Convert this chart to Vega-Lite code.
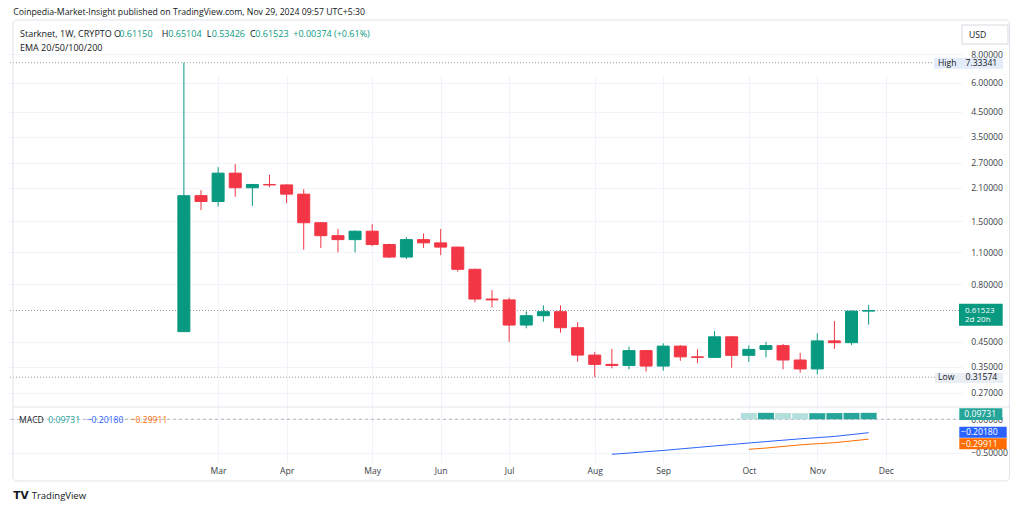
{
  "$schema": "https://vega.github.io/schema/vega-lite/v6.json",
  "width": 954,
  "height": 442,
  "autosize": {"type": "none"},
  "padding": {"left": 8, "top": 20, "right": 62, "bottom": 47},
  "background": "#ffffff",
  "config": {
    "view": {"stroke": null},
    "font": "Open Sans",
    "text": {"font": "Open Sans"},
    "axis": {"labelFont": "Open Sans", "labelFontSize": 8.6, "labelColor": "#3a3d45", "ticks": false, "domain": false, "gridColor": "#F0F3FA", "title": null}
  },
  "datasets": {
    "candles": [
      {"date": "2024-02-19", "open": 0.498, "high": 7.33341, "low": 0.497, "close": 1.94},
      {"date": "2024-02-26", "open": 1.94, "high": 2.05, "low": 1.68, "close": 1.83},
      {"date": "2024-03-04", "open": 1.83, "high": 2.58, "low": 1.74, "close": 2.43},
      {"date": "2024-03-11", "open": 2.43, "high": 2.66, "low": 1.92, "close": 2.10},
      {"date": "2024-03-18", "open": 2.10, "high": 2.18, "low": 1.75, "close": 2.17},
      {"date": "2024-03-25", "open": 2.17, "high": 2.39, "low": 2.11, "close": 2.16},
      {"date": "2024-04-01", "open": 2.16, "high": 2.17, "low": 1.80, "close": 1.97},
      {"date": "2024-04-08", "open": 1.97, "high": 2.07, "low": 1.13, "close": 1.48},
      {"date": "2024-04-15", "open": 1.48, "high": 1.49, "low": 1.15, "close": 1.30},
      {"date": "2024-04-22", "open": 1.30, "high": 1.39, "low": 1.10, "close": 1.25},
      {"date": "2024-04-29", "open": 1.25, "high": 1.37, "low": 1.10, "close": 1.36},
      {"date": "2024-05-06", "open": 1.36, "high": 1.46, "low": 1.17, "close": 1.19},
      {"date": "2024-05-13", "open": 1.19, "high": 1.20, "low": 1.04, "close": 1.05},
      {"date": "2024-05-20", "open": 1.05, "high": 1.28, "low": 1.03, "close": 1.25},
      {"date": "2024-05-27", "open": 1.25, "high": 1.33, "low": 1.15, "close": 1.21},
      {"date": "2024-06-03", "open": 1.21, "high": 1.39, "low": 1.07, "close": 1.16},
      {"date": "2024-06-10", "open": 1.16, "high": 1.165, "low": 0.907, "close": 0.929},
      {"date": "2024-06-17", "open": 0.929, "high": 0.935, "low": 0.668, "close": 0.690},
      {"date": "2024-06-24", "open": 0.690, "high": 0.755, "low": 0.635, "close": 0.684},
      {"date": "2024-07-01", "open": 0.684, "high": 0.699, "low": 0.450, "close": 0.532},
      {"date": "2024-07-08", "open": 0.532, "high": 0.610, "low": 0.515, "close": 0.584},
      {"date": "2024-07-15", "open": 0.584, "high": 0.648, "low": 0.550, "close": 0.608},
      {"date": "2024-07-22", "open": 0.608, "high": 0.648, "low": 0.493, "close": 0.518},
      {"date": "2024-07-29", "open": 0.518, "high": 0.547, "low": 0.369, "close": 0.394},
      {"date": "2024-08-05", "open": 0.394, "high": 0.407, "low": 0.31574, "close": 0.359},
      {"date": "2024-08-12", "open": 0.359, "high": 0.419, "low": 0.345, "close": 0.355},
      {"date": "2024-08-19", "open": 0.355, "high": 0.428, "low": 0.342, "close": 0.412},
      {"date": "2024-08-26", "open": 0.412, "high": 0.415, "low": 0.334, "close": 0.353},
      {"date": "2024-09-02", "open": 0.353, "high": 0.443, "low": 0.337, "close": 0.431},
      {"date": "2024-09-09", "open": 0.431, "high": 0.435, "low": 0.372, "close": 0.387},
      {"date": "2024-09-16", "open": 0.387, "high": 0.418, "low": 0.363, "close": 0.385},
      {"date": "2024-09-23", "open": 0.385, "high": 0.501, "low": 0.383, "close": 0.473},
      {"date": "2024-09-30", "open": 0.473, "high": 0.475, "low": 0.347, "close": 0.393},
      {"date": "2024-10-07", "open": 0.393, "high": 0.434, "low": 0.368, "close": 0.417},
      {"date": "2024-10-14", "open": 0.417, "high": 0.450, "low": 0.385, "close": 0.433},
      {"date": "2024-10-21", "open": 0.433, "high": 0.440, "low": 0.342, "close": 0.375},
      {"date": "2024-10-28", "open": 0.375, "high": 0.403, "low": 0.330, "close": 0.343},
      {"date": "2024-11-04", "open": 0.343, "high": 0.490, "low": 0.325, "close": 0.454},
      {"date": "2024-11-11", "open": 0.454, "high": 0.554, "low": 0.419, "close": 0.446},
      {"date": "2024-11-18", "open": 0.446, "high": 0.615, "low": 0.436, "close": 0.6115},
      {"date": "2024-11-25", "open": 0.6115, "high": 0.65104, "low": 0.53426, "close": 0.61523}
    ],
    "macd": [
      {"date": "2024-08-12", "macd": -0.527, "signal": null, "hist": null, "dir": null},
      {"date": "2024-08-19", "macd": -0.508, "signal": null, "hist": null, "dir": null},
      {"date": "2024-08-26", "macd": -0.488, "signal": null, "hist": null, "dir": null},
      {"date": "2024-09-02", "macd": -0.469, "signal": null, "hist": null, "dir": null},
      {"date": "2024-09-09", "macd": -0.446, "signal": null, "hist": null, "dir": null},
      {"date": "2024-09-16", "macd": -0.424, "signal": null, "hist": null, "dir": null},
      {"date": "2024-09-23", "macd": -0.401, "signal": null, "hist": null, "dir": null},
      {"date": "2024-09-30", "macd": -0.379, "signal": null, "hist": null, "dir": null},
      {"date": "2024-10-07", "macd": -0.357, "signal": -0.452, "hist": 0.095, "dir": "falling"},
      {"date": "2024-10-14", "macd": -0.336, "signal": -0.433, "hist": 0.097, "dir": "rising"},
      {"date": "2024-10-21", "macd": -0.315, "signal": -0.409, "hist": 0.094, "dir": "falling"},
      {"date": "2024-10-28", "macd": -0.294, "signal": -0.385, "hist": 0.091, "dir": "falling"},
      {"date": "2024-11-04", "macd": -0.276, "signal": -0.368, "hist": 0.092, "dir": "rising"},
      {"date": "2024-11-11", "macd": -0.258, "signal": -0.352, "hist": 0.094, "dir": "rising"},
      {"date": "2024-11-18", "macd": -0.230, "signal": -0.326, "hist": 0.096, "dir": "rising"},
      {"date": "2024-11-25", "macd": -0.2018, "signal": -0.29911, "hist": 0.09731, "dir": "rising"}
    ]
  },
  "layer": [
    {
      "layer": [
        {
          "data": {"values": [{"level": 7.33341}, {"level": 0.61523}, {"level": 0.31574}]},
          "mark": {"type": "rule", "color": "#9598A1", "strokeDash": [1, 2], "strokeWidth": 1},
          "encoding": {
            "y": {"field": "level", "type": "quantitative", "title": null,
              "scale": {"type": "log", "domain": [0.2344, 11.24], "range": [387, 0], "nice": false, "zero": false},
              "axis": {"orient": "right", "values": [0.27, 0.35, 0.45, 0.8, 1.1, 1.5, 2.1, 2.7, 3.5, 4.5, 6, 8], "format": ".5f", "grid": true, "labelPadding": 8.7, "labelFlush": false, "labelOverlap": false}}
          }
        },
        {
          "data": {"name": "candles"},
          "mark": {"type": "rule", "strokeWidth": 1},
          "encoding": {
            "x": {"field": "date", "type": "temporal", "title": null,
              "scale": {"type": "utc", "domain": [{"year": 2023, "month": 12, "date": 11, "hours": 3, "utc": true}, {"year": 2024, "month": 12, "date": 31, "hours": 3, "utc": true}]},
              "axis": {"orient": "bottom", "format": "%b", "grid": true, "labelPadding": 4, "labelFlush": false, "labelOverlap": false,
                "values": [
                  {"year": 2024, "month": 3, "date": 4, "utc": true},
                  {"year": 2024, "month": 4, "date": 1, "utc": true},
                  {"year": 2024, "month": 5, "date": 6, "utc": true},
                  {"year": 2024, "month": 6, "date": 3, "utc": true},
                  {"year": 2024, "month": 7, "date": 1, "utc": true},
                  {"year": 2024, "month": 8, "date": 5, "utc": true},
                  {"year": 2024, "month": 9, "date": 2, "utc": true},
                  {"year": 2024, "month": 10, "date": 7, "utc": true},
                  {"year": 2024, "month": 11, "date": 4, "utc": true},
                  {"year": 2024, "month": 12, "date": 2, "utc": true}
                ]}},
            "y": {"field": "low", "type": "quantitative", "title": null},
            "y2": {"field": "high"},
            "color": {"condition": {"test": "datum.close >= datum.open", "value": "#089981"}, "value": "#F23645"}
          }
        },
        {
          "data": {"name": "candles"},
          "mark": {"type": "bar", "size": 12, "strokeWidth": 1},
          "encoding": {
            "x": {"field": "date", "type": "temporal", "title": null},
            "y": {"field": "open", "type": "quantitative", "title": null},
            "y2": {"field": "close"},
            "color": {"condition": {"test": "datum.close >= datum.open", "value": "#089981"}, "value": "#F23645"},
            "stroke": {"condition": {"test": "datum.close >= datum.open", "value": "#089981"}, "value": "#F23645"}
          }
        },
        {
          "data": {"values": [{}]},
          "mark": {"type": "text", "text": "Coinpedia-Market-Insight published on TradingView.com, Nov 29, 2024 09:57 UTC+5:30", "align": "left", "baseline": "middle", "fontSize": 8.7, "color": "#131722", "dx": 0.3},
          "encoding": {
            "x": {"datum": {"year": 2023, "month": 12, "date": 11, "hours": 3, "utc": true}, "type": "temporal"},
            "y": {"datum": 12.14, "type": "quantitative"}
          }
        },
        {
          "data": {"values": [{}]},
          "mark": {"type": "text", "text": "Starknet, 1W, CRYPTO", "align": "left", "baseline": "middle", "fontSize": 9, "color": "#131722", "dx": 7},
          "encoding": {
            "x": {"datum": {"year": 2023, "month": 12, "date": 11, "hours": 3, "utc": true}, "type": "temporal"},
            "y": {"datum": 9.77, "type": "quantitative"}
          }
        },
        {
          "data": {"values": [{}]},
          "mark": {"type": "text", "text": "O", "align": "left", "baseline": "middle", "fontSize": 9, "color": "#131722", "dx": 101},
          "encoding": {
            "x": {"datum": {"year": 2023, "month": 12, "date": 11, "hours": 3, "utc": true}, "type": "temporal"},
            "y": {"datum": 9.77, "type": "quantitative"}
          }
        },
        {
          "data": {"values": [{}]},
          "mark": {"type": "text", "text": "0.61150", "align": "left", "baseline": "middle", "fontSize": 9, "color": "#089981", "dx": 106.3},
          "encoding": {
            "x": {"datum": {"year": 2023, "month": 12, "date": 11, "hours": 3, "utc": true}, "type": "temporal"},
            "y": {"datum": 9.77, "type": "quantitative"}
          }
        },
        {
          "data": {"values": [{}]},
          "mark": {"type": "text", "text": "H", "align": "left", "baseline": "middle", "fontSize": 9, "color": "#131722", "dx": 148.7},
          "encoding": {
            "x": {"datum": {"year": 2023, "month": 12, "date": 11, "hours": 3, "utc": true}, "type": "temporal"},
            "y": {"datum": 9.77, "type": "quantitative"}
          }
        },
        {
          "data": {"values": [{}]},
          "mark": {"type": "text", "text": "0.65104", "align": "left", "baseline": "middle", "fontSize": 9, "color": "#089981", "dx": 155.3},
          "encoding": {
            "x": {"datum": {"year": 2023, "month": 12, "date": 11, "hours": 3, "utc": true}, "type": "temporal"},
            "y": {"datum": 9.77, "type": "quantitative"}
          }
        },
        {
          "data": {"values": [{}]},
          "mark": {"type": "text", "text": "L", "align": "left", "baseline": "middle", "fontSize": 9, "color": "#131722", "dx": 193.7},
          "encoding": {
            "x": {"datum": {"year": 2023, "month": 12, "date": 11, "hours": 3, "utc": true}, "type": "temporal"},
            "y": {"datum": 9.77, "type": "quantitative"}
          }
        },
        {
          "data": {"values": [{}]},
          "mark": {"type": "text", "text": "0.53426", "align": "left", "baseline": "middle", "fontSize": 9, "color": "#089981", "dx": 198.7},
          "encoding": {
            "x": {"datum": {"year": 2023, "month": 12, "date": 11, "hours": 3, "utc": true}, "type": "temporal"},
            "y": {"datum": 9.77, "type": "quantitative"}
          }
        },
        {
          "data": {"values": [{}]},
          "mark": {"type": "text", "text": "C", "align": "left", "baseline": "middle", "fontSize": 9, "color": "#131722", "dx": 237},
          "encoding": {
            "x": {"datum": {"year": 2023, "month": 12, "date": 11, "hours": 3, "utc": true}, "type": "temporal"},
            "y": {"datum": 9.77, "type": "quantitative"}
          }
        },
        {
          "data": {"values": [{}]},
          "mark": {"type": "text", "text": "0.61523", "align": "left", "baseline": "middle", "fontSize": 9, "color": "#089981", "dx": 242.3},
          "encoding": {
            "x": {"datum": {"year": 2023, "month": 12, "date": 11, "hours": 3, "utc": true}, "type": "temporal"},
            "y": {"datum": 9.77, "type": "quantitative"}
          }
        },
        {
          "data": {"values": [{}]},
          "mark": {"type": "text", "text": "+0.00374 (+0.61%)", "align": "left", "baseline": "middle", "fontSize": 9, "color": "#089981", "dx": 280.3},
          "encoding": {
            "x": {"datum": {"year": 2023, "month": 12, "date": 11, "hours": 3, "utc": true}, "type": "temporal"},
            "y": {"datum": 9.77, "type": "quantitative"}
          }
        },
        {
          "data": {"values": [{}]},
          "mark": {"type": "text", "text": "EMA 20/50/100/200", "align": "left", "baseline": "middle", "fontSize": 9, "color": "#131722", "dx": 7},
          "encoding": {
            "x": {"datum": {"year": 2023, "month": 12, "date": 11, "hours": 3, "utc": true}, "type": "temporal"},
            "y": {"datum": 8.52, "type": "quantitative"}
          }
        },
        {
          "data": {"values": [{}]},
          "mark": {"type": "point", "shape": "M0.5,-0.95L5.1,-0.95L5.1,0.95L0.5,0.95Z", "size": 400, "filled": false, "fill": "#ffffff", "fillOpacity": 1, "stroke": "#D6D9E0", "strokeWidth": 1, "opacity": 1, "clip": false},
          "encoding": {
            "x": {"datum": {"year": 2024, "month": 12, "date": 31, "hours": 3, "utc": true}, "type": "temporal"},
            "y": {"datum": 9.72, "type": "quantitative"}
          }
        },
        {
          "data": {"values": [{}]},
          "mark": {"type": "text", "text": "USD", "align": "left", "baseline": "middle", "fontSize": 8.6, "color": "#131722", "dx": 12},
          "encoding": {
            "x": {"datum": {"year": 2024, "month": 12, "date": 31, "hours": 3, "utc": true}, "type": "temporal"},
            "y": {"datum": 9.72, "type": "quantitative"}
          }
        },
        {
          "data": {"values": [{"kind": "High", "level": 7.33341}]},
          "mark": {"type": "point", "shape": "M-2.3,-0.5L4.6,-0.5L4.6,0.6L-2.3,0.6Z", "size": 400, "filled": true, "color": "#E3ECF8", "opacity": 1, "strokeWidth": 0, "clip": false},
          "encoding": {
            "x": {"datum": {"year": 2024, "month": 12, "date": 31, "hours": 3, "utc": true}, "type": "temporal"},
            "y": {"field": "level", "type": "quantitative", "title": null}
          }
        },
        {
          "data": {"values": [{"kind": "Low", "level": 0.31574}]},
          "mark": {"type": "point", "shape": "M-2.2,-0.42L4.6,-0.42L4.6,0.58L-2.2,0.58Z", "size": 400, "filled": true, "color": "#E9EEF5", "opacity": 1, "strokeWidth": 0, "clip": false},
          "encoding": {
            "x": {"datum": {"year": 2024, "month": 12, "date": 31, "hours": 3, "utc": true}, "type": "temporal"},
            "y": {"field": "level", "type": "quantitative", "title": null}
          }
        },
        {
          "data": {"values": [{"kind": "High", "level": 7.33341}, {"kind": "Low", "level": 0.31574}]},
          "mark": {"type": "text", "align": "left", "baseline": "middle", "fontSize": 8.6, "color": "#131722", "dx": -19},
          "encoding": {
            "x": {"datum": {"year": 2024, "month": 12, "date": 31, "hours": 3, "utc": true}, "type": "temporal"},
            "y": {"field": "level", "type": "quantitative", "title": null},
            "text": {"field": "kind"}
          }
        },
        {
          "data": {"values": [{"kind": "High", "level": 7.33341}, {"kind": "Low", "level": 0.31574}]},
          "mark": {"type": "text", "align": "left", "baseline": "middle", "fontSize": 8.6, "color": "#131722", "dx": 8.5},
          "encoding": {
            "x": {"datum": {"year": 2024, "month": 12, "date": 31, "hours": 3, "utc": true}, "type": "temporal"},
            "y": {"field": "level", "type": "quantitative", "title": null},
            "text": {"field": "level", "type": "quantitative", "format": ".5f"}
          }
        },
        {
          "data": {"values": [{"last": 0.61523}]},
          "mark": {"type": "point", "shape": "M0.2,-0.68L4.57,-0.68L4.57,1.52L0.2,1.52Z", "size": 400, "filled": true, "color": "#089981", "opacity": 1, "strokeWidth": 0, "clip": false},
          "encoding": {
            "x": {"datum": {"year": 2024, "month": 12, "date": 31, "hours": 3, "utc": true}, "type": "temporal"},
            "y": {"field": "last", "type": "quantitative", "title": null}
          }
        },
        {
          "data": {"values": [{"last": 0.61523}]},
          "mark": {"type": "text", "align": "left", "baseline": "middle", "fontSize": 8, "color": "#ffffff", "dx": 8, "dy": 0},
          "encoding": {
            "x": {"datum": {"year": 2024, "month": 12, "date": 31, "hours": 3, "utc": true}, "type": "temporal"},
            "y": {"field": "last", "type": "quantitative", "title": null},
            "text": {"field": "last", "type": "quantitative", "format": ".5f"}
          }
        },
        {
          "data": {"values": [{"last": 0.61523}]},
          "mark": {"type": "text", "text": "2d 20h", "align": "left", "baseline": "middle", "fontSize": 8, "color": "#ffffff", "dx": 8, "dy": 9.8},
          "encoding": {
            "x": {"datum": {"year": 2024, "month": 12, "date": 31, "hours": 3, "utc": true}, "type": "temporal"},
            "y": {"field": "last", "type": "quantitative", "title": null}
          }
        }
      ]
    },
    {
      "layer": [
        {
          "data": {"values": [{}]},
          "mark": {"type": "rect", "fill": "#ffffff", "fillOpacity": 0, "stroke": "#E0E3EB", "strokeWidth": 1, "cornerRadius": 4, "clip": false},
          "encoding": {
            "x": {"datum": {"year": 2023, "month": 12, "date": 11, "hours": 3, "utc": true}, "type": "temporal"},
            "x2": {"datum": {"year": 2025, "month": 1, "date": 21, "hours": 14, "utc": true}},
            "y": {"datum": 6.011, "type": "quantitative",
              "scale": {"type": "linear", "domain": [-0.643, 0.185], "range": [442, 387], "nice": false, "zero": false},
              "axis": {"orient": "right", "values": [0, -0.5], "format": ".5f", "grid": true, "labelPadding": 8.7, "labelFlush": false, "labelOverlap": false}},
            "y2": {"datum": -0.929}
          }
        },
        {
          "data": {"values": [{}]},
          "mark": {"type": "rule", "color": "#E0E3EB", "strokeWidth": 1, "clip": false},
          "encoding": {
            "x": {"datum": {"year": 2023, "month": 12, "date": 11, "hours": 3, "utc": true}, "type": "temporal"},
            "x2": {"datum": {"year": 2025, "month": 1, "date": 21, "hours": 14, "utc": true}},
            "y": {"datum": 0.185, "type": "quantitative"}
          }
        },
        {
          "data": {"values": [{"zero": 0}]},
          "mark": {"type": "rule", "color": "#B2B5BE", "strokeDash": [3, 3], "strokeWidth": 1},
          "encoding": {
            "y": {"field": "zero", "type": "quantitative", "title": null}
          }
        },
        {
          "data": {"name": "macd"},
          "transform": [{"filter": "isValid(datum.hist)"}],
          "mark": {"type": "bar", "size": 16},
          "encoding": {
            "x": {"field": "date", "type": "temporal", "title": null},
            "y": {"field": "hist", "type": "quantitative", "title": null},
            "color": {"field": "dir", "type": "nominal", "scale": {"domain": ["rising", "falling"], "range": ["#26A69A", "#B2DFDB"]}, "legend": null}
          }
        },
        {
          "data": {"name": "macd"},
          "mark": {"type": "line", "color": "#2962FF", "strokeWidth": 1},
          "encoding": {
            "x": {"field": "date", "type": "temporal", "title": null},
            "y": {"field": "macd", "type": "quantitative", "title": null}
          }
        },
        {
          "data": {"name": "macd"},
          "transform": [{"filter": "isValid(datum.signal)"}],
          "mark": {"type": "line", "color": "#FF6D00", "strokeWidth": 1},
          "encoding": {
            "x": {"field": "date", "type": "temporal", "title": null},
            "y": {"field": "signal", "type": "quantitative", "title": null}
          }
        },
        {
          "data": {"values": [{"v": 0.09731}]},
          "mark": {"type": "point", "shape": "M0.23,-0.454L4.53,-0.454L4.53,0.716L0.23,0.716Z", "size": 400, "filled": true, "color": "#26A69A", "opacity": 1, "strokeWidth": 0, "clip": false},
          "encoding": {
            "x": {"datum": {"year": 2024, "month": 12, "date": 31, "hours": 3, "utc": true}, "type": "temporal"},
            "y": {"field": "v", "type": "quantitative", "title": null}
          }
        },
        {
          "data": {"values": [{"v": -0.2018}]},
          "mark": {"type": "point", "shape": "M0.23,-0.6L4.97,-0.6L4.97,0.5L0.23,0.5Z", "size": 400, "filled": true, "color": "#2962FF", "opacity": 1, "strokeWidth": 0, "clip": false},
          "encoding": {
            "x": {"datum": {"year": 2024, "month": 12, "date": 31, "hours": 3, "utc": true}, "type": "temporal"},
            "y": {"field": "v", "type": "quantitative", "title": null}
          }
        },
        {
          "data": {"values": [{"v": -0.29911}]},
          "mark": {"type": "point", "shape": "M0.23,-0.087L4.97,-0.087L4.97,1.013L0.23,1.013Z", "size": 400, "filled": true, "color": "#FF6D00", "opacity": 1, "strokeWidth": 0, "clip": false},
          "encoding": {
            "x": {"datum": {"year": 2024, "month": 12, "date": 31, "hours": 3, "utc": true}, "type": "temporal"},
            "y": {"field": "v", "type": "quantitative", "title": null}
          }
        },
        {
          "data": {"values": [{"v": 0.09731}]},
          "mark": {"type": "text", "align": "left", "baseline": "middle", "fontSize": 8.6, "color": "#ffffff", "dx": 7.3, "dy": 1.4},
          "encoding": {
            "x": {"datum": {"year": 2024, "month": 12, "date": 31, "hours": 3, "utc": true}, "type": "temporal"},
            "y": {"field": "v", "type": "quantitative", "title": null},
            "text": {"field": "v", "type": "quantitative", "format": ".5f"}
          }
        },
        {
          "data": {"values": [{"v": -0.2018}]},
          "mark": {"type": "text", "align": "left", "baseline": "middle", "fontSize": 8.6, "color": "#ffffff", "dx": 4, "dy": -0.5},
          "encoding": {
            "x": {"datum": {"year": 2024, "month": 12, "date": 31, "hours": 3, "utc": true}, "type": "temporal"},
            "y": {"field": "v", "type": "quantitative", "title": null},
            "text": {"field": "v", "type": "quantitative", "format": ".5f"}
          }
        },
        {
          "data": {"values": [{"v": -0.29911}]},
          "mark": {"type": "text", "align": "left", "baseline": "middle", "fontSize": 8.6, "color": "#ffffff", "dx": 4, "dy": 4.6},
          "encoding": {
            "x": {"datum": {"year": 2024, "month": 12, "date": 31, "hours": 3, "utc": true}, "type": "temporal"},
            "y": {"field": "v", "type": "quantitative", "title": null},
            "text": {"field": "v", "type": "quantitative", "format": ".5f"}
          }
        },
        {
          "data": {"values": [{}]},
          "mark": {"type": "text", "text": "MACD", "align": "left", "baseline": "middle", "fontSize": 8.6, "color": "#131722", "dx": 6},
          "encoding": {
            "x": {"datum": {"year": 2023, "month": 12, "date": 11, "hours": 3, "utc": true}, "type": "temporal"},
            "y": {"datum": -0.0107, "type": "quantitative"}
          }
        },
        {
          "data": {"values": [{}]},
          "mark": {"type": "text", "text": "0.09731", "align": "left", "baseline": "middle", "fontSize": 8.6, "color": "#26A69A", "dx": 35.3},
          "encoding": {
            "x": {"datum": {"year": 2023, "month": 12, "date": 11, "hours": 3, "utc": true}, "type": "temporal"},
            "y": {"datum": -0.0107, "type": "quantitative"}
          }
        },
        {
          "data": {"values": [{}]},
          "mark": {"type": "text", "text": "−0.20180", "align": "left", "baseline": "middle", "fontSize": 8.6, "color": "#2962FF", "dx": 73.7},
          "encoding": {
            "x": {"datum": {"year": 2023, "month": 12, "date": 11, "hours": 3, "utc": true}, "type": "temporal"},
            "y": {"datum": -0.0107, "type": "quantitative"}
          }
        },
        {
          "data": {"values": [{}]},
          "mark": {"type": "text", "text": "−0.29911", "align": "left", "baseline": "middle", "fontSize": 8.6, "color": "#FF6D00", "dx": 117.7},
          "encoding": {
            "x": {"datum": {"year": 2023, "month": 12, "date": 11, "hours": 3, "utc": true}, "type": "temporal"},
            "y": {"datum": -0.0107, "type": "quantitative"}
          }
        },
        {
          "data": {"values": [{}]},
          "mark": {"type": "text", "text": "TV", "align": "left", "baseline": "middle", "fontSize": 10.5, "fontWeight": 900, "font": "DejaVu Sans", "color": "#131722", "dx": 0.3},
          "encoding": {
            "x": {"datum": {"year": 2023, "month": 12, "date": 11, "hours": 3, "utc": true}, "type": "temporal"},
            "y": {"datum": -1.155, "type": "quantitative"}
          }
        },
        {
          "data": {"values": [{}]},
          "mark": {"type": "text", "text": "TradingView", "align": "left", "baseline": "middle", "fontSize": 9.5, "color": "#131722", "dx": 18.7},
          "encoding": {
            "x": {"datum": {"year": 2023, "month": 12, "date": 11, "hours": 3, "utc": true}, "type": "temporal"},
            "y": {"datum": -1.155, "type": "quantitative"}
          }
        }
      ]
    }
  ],
  "resolve": {"scale": {"y": "independent"}, "axis": {"y": "independent"}}
}
